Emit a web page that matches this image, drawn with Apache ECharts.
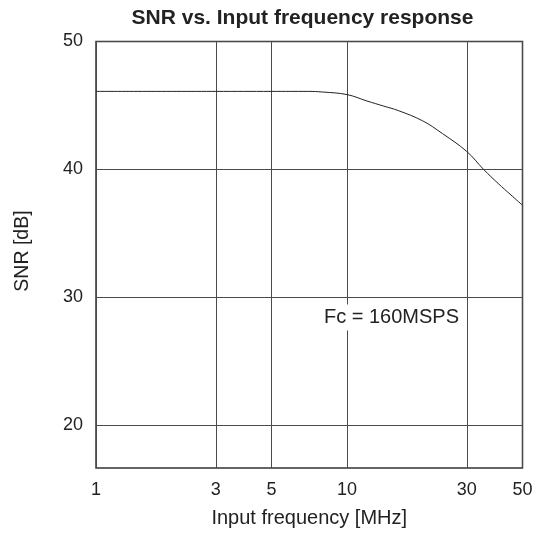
<!DOCTYPE html>
<html>
<head>
<meta charset="utf-8">
<script src="https://cdn.jsdelivr.net/npm/echarts@6/dist/echarts.min.js"></script>
<style>
html,body{margin:0;padding:0;background:#fff;}
#chart{width:539px;height:535px;}
</style>
</head>
<body>
<div id="chart"></div>
<script>
var freqMHz = [1, 3, 5, 7, 8, 10, 12, 14, 16, 20, 24, 30, 35, 40, 45, 50];
var snrDb   = [46.1, 46.1, 46.1, 46.1, 46.05, 45.85, 45.35, 44.95, 44.6, 43.8, 42.8, 41.4, 40.0, 38.9, 38.0, 37.2];
var xTicks = [1, 3, 5, 10, 30, 50];
var yTicks = [20, 30, 40, 50];
var titleText = 'SNR vs. Input frequency response';
var xName = 'Input frequency [MHz]';
var yName = 'SNR [dB]';
var noteText = 'Fc = 160MSPS';

var FONT = '"Liberation Sans", Arial, sans-serif';
var chart = echarts.init(document.getElementById('chart'), null, {renderer: 'canvas'});
var pts = freqMHz.map(function (f, i) { return [f, snrDb[i]]; });

chart.setOption({
  animation: false,
  backgroundColor: '#fff',
  grid: {left: 96, right: 16.5, top: 41.5, bottom: 67, show: true, borderColor: '#333', borderWidth: 1.5, backgroundColor: 'transparent'},
  xAxis: {
    type: 'log', logBase: 10, min: 1, max: 50,
    name: xName, nameLocation: 'middle', nameGap: 40,
    nameTextStyle: {fontFamily: FONT, fontSize: 20, color: '#222'},
    axisLine: {show: false},
    axisTick: {show: false, customValues: xTicks},
    axisLabel: {customValues: xTicks, fontFamily: FONT, fontSize: 18, color: '#222', margin: 13},
    splitLine: {show: true, lineStyle: {color: '#4a4a4a', width: 1}},
    minorTick: {show: false}, minorSplitLine: {show: false}
  },
  yAxis: {
    type: 'value', min: 16.66, max: 50, splitNumber: 3,
    axisLine: {show: false},
    axisTick: {show: false, customValues: yTicks},
    axisLabel: {customValues: yTicks, fontFamily: FONT, fontSize: 18, color: '#222', margin: 13},
    splitLine: {show: true, lineStyle: {color: '#4a4a4a', width: 1}}
  },
  graphic: [
    {type: 'text', x: 302.5, y: 18, z: 100,
     style: {text: titleText, fontFamily: FONT, fontSize: 21, fontWeight: 'bold', fill: '#222', align: 'center', verticalAlign: 'middle'}},
    {type: 'text', x: 22.5, y: 251, rotation: Math.PI / 2, z: 100,
     style: {text: yName, fontFamily: FONT, fontSize: 19.5, fill: '#222', align: 'center', verticalAlign: 'middle'}},
    {type: 'text', x: 391.5, y: 317.5, z: 100,
     style: {text: noteText, fontFamily: FONT, fontSize: 20, fill: '#222', align: 'center', verticalAlign: 'middle',
             backgroundColor: '#fff', padding: [3, 3, 3, 3]}}
  ],
  series: [{
    type: 'line', data: pts, smooth: 0.4, showSymbol: false,
    lineStyle: {color: '#222', width: 1}, silent: true
  }]
});
</script>
</body>
</html>
